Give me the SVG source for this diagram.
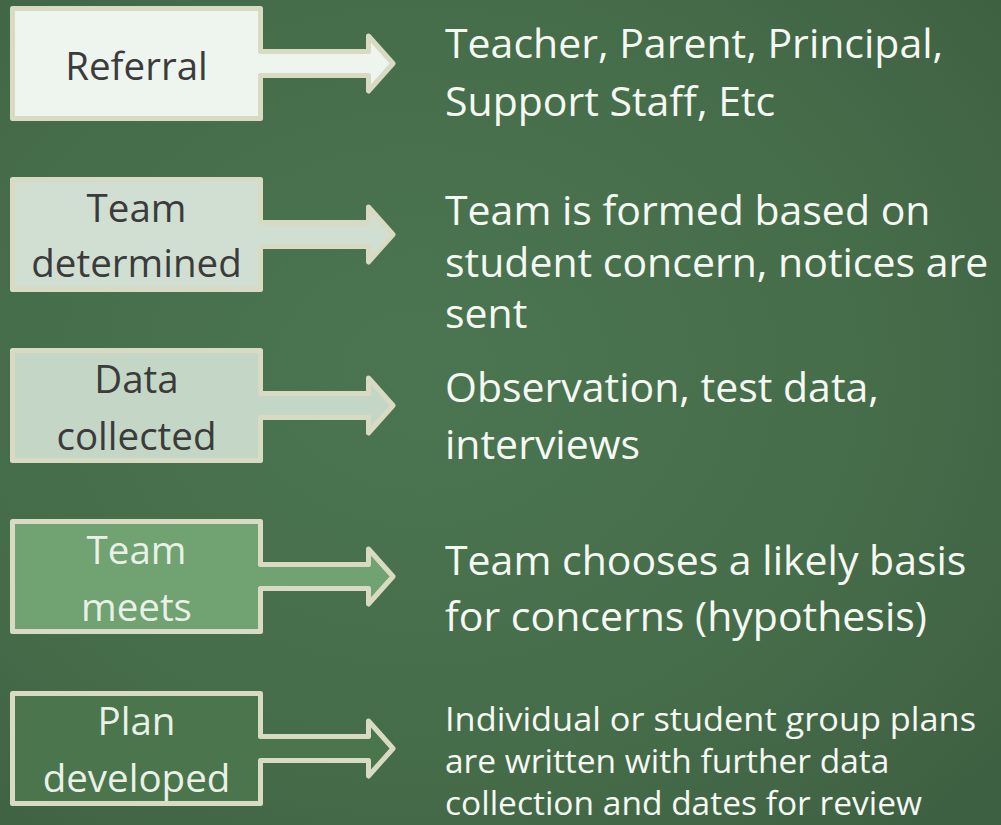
<svg xmlns="http://www.w3.org/2000/svg" width="1001" height="825" viewBox="0 0 1001 825">
<defs>
<radialGradient id="bg" cx="0.42" cy="0.45" r="0.75">
<stop offset="0" stop-color="#4b7551"/>
<stop offset="0.6" stop-color="#466d4a"/>
<stop offset="1" stop-color="#3e6042"/>
</radialGradient>
<path id="shape" d="M12.5,2.5 H260.5 V45.5 H368.5 V30 L393,57.5 L368.5,85 V69.5 H260.5 V112.5 H12.5 Z"/>
</defs>
<style>
.sh{stroke:#d8dbc2;stroke-width:5;stroke-linejoin:round}
.lbl{font-family:"Open Sans","Noto Sans",sans-serif;font-size:38.5px;text-anchor:middle}
.dk{fill:#3b3b3b}
.lt{fill:#e9f1e6}
.desc{font-family:"Open Sans","Noto Sans",sans-serif;font-size:41px;fill:#f5f8f2}
.small{font-size:33.5px}
</style>
<rect x="0" y="0" width="1001" height="825" fill="url(#bg)"/>

<g id="node-referral">
<use href="#shape" x="0" y="6" class="sh" fill="#eef5ee"/>
<text class="lbl dk" x="136.5" y="80">Referral</text>
</g>

<g id="node-team-determined">
<use href="#shape" x="0" y="177" class="sh" fill="#d1dfd2"/>
<text class="lbl dk" x="136.5" y="222">Team</text>
<text class="lbl dk" x="136.5" y="277">determined</text>
</g>

<g id="node-data-collected">
<use href="#shape" x="0" y="348" class="sh" fill="#c4d7c6"/>
<text class="lbl dk" x="136.5" y="393">Data</text>
<text class="lbl dk" x="136.5" y="450">collected</text>
</g>

<g id="node-team-meets">
<use href="#shape" x="0" y="519" class="sh" fill="#70a272"/>
<text class="lbl lt" x="136.5" y="564">Team</text>
<text class="lbl lt" x="136.5" y="621">meets</text>
</g>

<g id="node-plan-developed">
<use href="#shape" x="0" y="691" class="sh" fill="#4b754d"/>
<text class="lbl lt" x="136.5" y="735">Plan</text>
<text class="lbl lt" x="136.5" y="792">developed</text>
</g>

<g id="descriptions">
<text class="desc" x="445" y="58">Teacher, Parent, Principal,</text>
<text class="desc" x="445" y="116">Support Staff, Etc</text>
<text class="desc" x="445" y="225">Team is formed based on</text>
<text class="desc" x="445" y="277">student concern, notices are</text>
<text class="desc" x="445" y="328">sent</text>
<text class="desc" x="445" y="402">Observation, test data,</text>
<text class="desc" x="445" y="459">interviews</text>
<text class="desc" x="445" y="575">Team chooses a likely basis</text>
<text class="desc" x="445" y="631">for concerns (hypothesis)</text>
<text class="desc small" x="445" y="731" textLength="531" lengthAdjust="spacingAndGlyphs">Individual or student group plans</text>
<text class="desc small" x="445" y="773">are written with further data</text>
<text class="desc small" x="445" y="815">collection and dates for review</text>
</g>
</svg>
